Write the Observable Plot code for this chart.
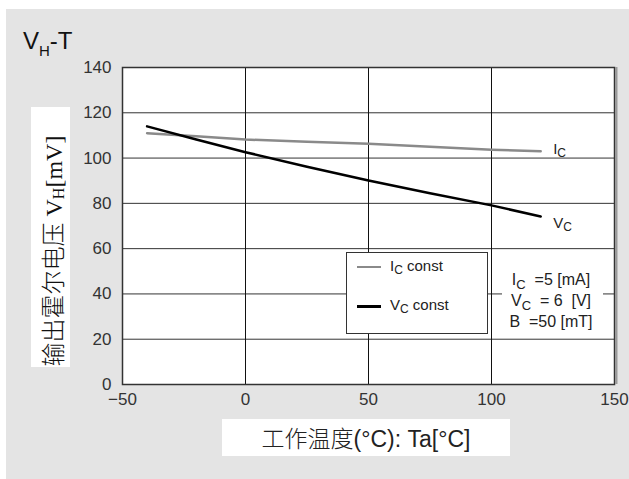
<!DOCTYPE html>
<html>
<head>
<meta charset="utf-8">
<script src="https://cdn.jsdelivr.net/npm/d3@7"></script>
<script src="https://cdn.jsdelivr.net/npm/@observablehq/plot@0.6"></script>
<style>
  html, body { margin: 0; padding: 0; background: #ffffff; }
  #wrap { position: relative; width: 629px; height: 479px; overflow: hidden; font-family: "Liberation Sans", Arial, sans-serif; color: #222; }
  #bg { position: absolute; left: 6px; top: 9px; right: 0; bottom: 0; background: #e4e4e4; }
  #chart { position: absolute; left: 0; top: 0; }
  .abs { position: absolute; white-space: pre; }
  .sub { position: relative; line-height: 0; }
</style>
</head>
<body>
<div id="wrap">
  <div id="bg"></div>
  <div id="chart"></div>
</div>
<script>
// ---- data ----
const temps   = [-40, -20, 0, 25, 50, 75, 100, 120];
const icConst = [111.0, 109.6, 108.2, 107.2, 106.3, 105.0, 103.7, 103.0];
const vcConst = [114.0, 108.2, 102.6, 96.2, 90.1, 84.5, 79.1, 74.2];
const xTicks  = [-50, 0, 50, 100, 150];
const yTicks  = [0, 20, 40, 60, 80, 100, 120, 140];

const icData = temps.map((t, i) => ({x: t, y: icConst[i]}));
const vcData = temps.map((t, i) => ({x: t, y: vcConst[i]}));

const chart = Plot.plot({
  width: 629,
  height: 479,
  marginLeft: 122,
  marginRight: 15,
  marginTop: 67,
  marginBottom: 95,
  style: {background: "transparent", fontFamily: "Liberation Sans, Arial, sans-serif", overflow: "visible"},
  x: {domain: [-50, 150]},
  y: {domain: [0, 140]},
  marks: [
    Plot.frame({fill: "white", stroke: null}),
    Plot.gridY(yTicks, {stroke: "#333", strokeOpacity: 1, strokeWidth: 1}),
    Plot.gridX(xTicks, {stroke: "#111", strokeOpacity: 1, strokeWidth: 1}),
    Plot.ruleX(xTicks.slice(-1), {stroke: "#999", strokeWidth: 2, dx: 2}),
    Plot.frame({stroke: "#333", strokeWidth: 1.5}),
    Plot.axisX(xTicks, {tickSize: 0, tickPadding: 8, fontSize: 17, fill: "#333", label: null}),
    Plot.axisY(yTicks, {tickSize: 0, tickPadding: 11, fontSize: 17, fill: "#333", label: null}),
    Plot.line(icData, {x: "x", y: "y", stroke: "#8a8a8a", strokeWidth: 2.5}),
    Plot.line(vcData, {x: "x", y: "y", stroke: "#000", strokeWidth: 2.5})
  ]
});
document.getElementById("chart").appendChild(chart);

const wrap = document.getElementById("wrap");
function add(html, css) {
  const d = document.createElement("div");
  d.className = "abs";
  d.innerHTML = html;
  Object.assign(d.style, css);
  wrap.appendChild(d);
  return d;
}

const sx = chart.scale("x"), sy = chart.scale("y");

// Title
add('V<span class="sub" style="font-size:15px;top:7px;">H</span>-T',
  {left: "23px", top: "28px", fontSize: "24px", lineHeight: "26px", color: "#111"});

// Y axis label (white box, rotated text)
add('', {left: "31px", top: "107px", width: "39px", height: "260px", background: "#fff"});
add('<span style="font-family:\'Noto Sans CJK SC\';font-weight:300;">输出霍尔电压</span><span style="font-family:\'Liberation Serif\';"> V<span class="sub" style="font-size:16px;top:2px;">H</span>[mV]</span>',
  {left: (31 + 19.5 - 130) + "px", top: (107 + 130 - 19.5) + "px", width: "260px", height: "39px",
   lineHeight: "39px", fontSize: "24px", color: "#111", transform: "rotate(-90deg)", transformOrigin: "50% 50%",
   paddingLeft: "1px", boxSizing: "border-box"});

// X axis label
add('<span style="font-family:\'Noto Sans CJK SC\';font-weight:300;">工作温度</span>(°C): Ta[°C]',
  {left: "222px", top: "419px", width: "288px", height: "37px", background: "#fff",
   fontSize: "23px", lineHeight: "37px", textAlign: "center", color: "#222"});

// End-of-line labels (positioned through the plot scales)
const lastT = temps[temps.length - 1];
add('I<span class="sub" style="font-size:12px;top:3px;">C</span>',
  {left: (sx.apply(lastT) + 13) + "px", top: (sy.apply(icConst[icConst.length - 1]) - 11) + "px",
   fontSize: "15px", lineHeight: "18px", color: "#222"});
add('V<span class="sub" style="font-size:12px;top:3px;">C</span>',
  {left: (sx.apply(lastT) + 13) + "px", top: (sy.apply(vcConst[vcConst.length - 1]) - 2) + "px",
   fontSize: "15px", lineHeight: "18px", color: "#222"});

// Legend
add('', {left: "346px", top: "252px", width: "142px", height: "82px", background: "#fff",
  border: "1px solid #333", boxSizing: "border-box"});
add('', {left: "357px", top: "266px", width: "24px", height: "1.5px", background: "#8a8a8a"});
add('I<span class="sub" style="font-size:12px;top:3px;">C</span> const',
  {left: "390px", top: "257px", fontSize: "15px", lineHeight: "18px", color: "#222"});
add('', {left: "357px", top: "305px", width: "24px", height: "2.5px", background: "#000"});
add('V<span class="sub" style="font-size:12px;top:3px;">C</span> const',
  {left: "390px", top: "296px", fontSize: "15px", lineHeight: "18px", color: "#222"});

// Conditions annotation
add('', {left: "502px", top: "272px", width: "101px", height: "56px", background: "#fff"});
add('I<span class="sub" style="font-size:13px;top:4px;">C</span>  =5 [mA]',
  {left: "500px", top: "271px", width: "102px", fontSize: "16px", lineHeight: "18px", textAlign: "center", color: "#222"});
add('V<span class="sub" style="font-size:13px;top:4px;">C</span>  = 6  [V]',
  {left: "500px", top: "292px", width: "102px", fontSize: "16px", lineHeight: "18px", textAlign: "center", color: "#222"});
add('B  =50 [mT]',
  {left: "500px", top: "313px", width: "102px", fontSize: "16px", lineHeight: "18px", textAlign: "center", color: "#222"});
</script>
</body>
</html>
